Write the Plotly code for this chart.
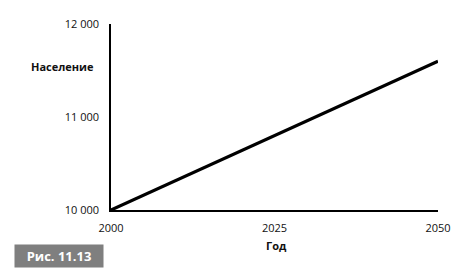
import plotly.graph_objects as go

years = [2000, 2050]
population = [10000, 11600]
x_ticks = [2000, 2025, 2050]
y_ticks = [10000, 11000, 12000]
y_tick_labels = ["10 000", "11 000", "12 000"]

W, H = 463, 277
L, R, T, B = 111, 14, 24, 67

fig = go.Figure()
fig.add_trace(go.Scatter(x=years, y=population, mode="lines",
                         line=dict(color="black", width=3.2), hoverinfo="skip"))

font = dict(family="Open Sans, Noto Sans, sans-serif", size=11, color="#111")
fig.update_layout(
    width=W, height=H, margin=dict(l=L, r=R, t=T, b=B),
    paper_bgcolor="white", plot_bgcolor="white", showlegend=False,
    font=font,
    xaxis=dict(range=[2000, 2050], tickvals=x_ticks, ticktext=[str(v) for v in x_ticks],
               showgrid=False, zeroline=False, showline=True, linecolor="black", linewidth=1.5,
               ticks="", ticklabelstandoff=7, fixedrange=True),
    yaxis=dict(range=[10000, 12000], tickvals=y_ticks, ticktext=y_tick_labels,
               showgrid=False, zeroline=False, showline=True, linecolor="black", linewidth=1.5,
               ticks="", ticklabelstandoff=8, fixedrange=True),
    annotations=[
        dict(text="<b>Население</b>", xref="paper", yref="paper", x=-0.148, y=0.773,
             xanchor="center", yanchor="middle", showarrow=False,
             font=dict(family="Open Sans, Noto Sans, sans-serif", size=11, color="#111")),
        dict(text="<b>Год</b>", xref="paper", yref="paper", x=0.507, y=-0.19,
             xanchor="center", yanchor="middle", showarrow=False,
             font=dict(family="Open Sans, Noto Sans, sans-serif", size=11, color="#111")),
        dict(text="<b>Рис. 11.13</b>", xref="paper", yref="paper",
             x=(11 - L) / (W - L - R), y=-(256 - (H - B)) / (H - T - B),
             xanchor="left", yanchor="middle", showarrow=False,
             bgcolor="#7f7f7f", borderpad=2, width=84, height=18, align="center",
             font=dict(family="Open Sans, Noto Sans, sans-serif", size=13, color="white")),
    ],
)
fig.write_html("out.html")
